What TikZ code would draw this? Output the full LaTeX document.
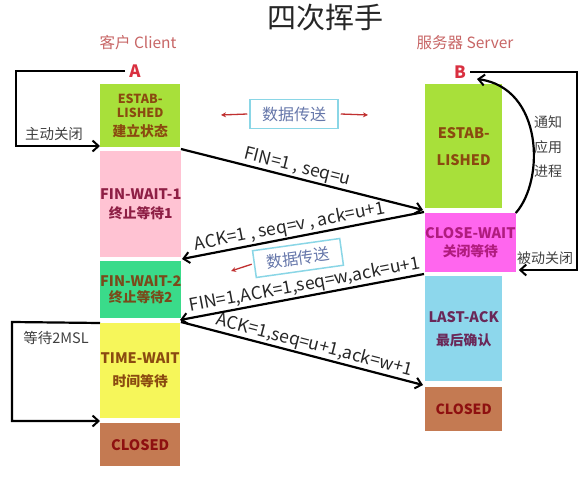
\documentclass[tikz,border=0pt]{standalone}
\usepackage{fontspec}
\setmainfont{Noto Sans CJK SC}
\usetikzlibrary{arrows.meta,calc}
\definecolor{estab}{HTML}{A8E03A}
\definecolor{fwone}{HTML}{FFC3D3}
\definecolor{fwtwo}{HTML}{3ADB8A}
\definecolor{twait}{HTML}{F6F65A}
\definecolor{closedc}{HTML}{C47A52}
\definecolor{cwait}{HTML}{FF66EE}
\definecolor{lack}{HTML}{8DD7EC}
\definecolor{tEstab}{HTML}{8A4A10}
\definecolor{tFwone}{HTML}{8E1F45}
\definecolor{tFwtwo}{HTML}{7A4A1A}
\definecolor{tClosed}{HTML}{8E1010}
\definecolor{tCwait}{HTML}{B01C7E}
\definecolor{tLack}{HTML}{6A2858}
\definecolor{hdr}{HTML}{C76565}
\definecolor{abred}{HTML}{D93040}
\definecolor{dborder}{HTML}{8AD6E6}
\definecolor{dtext}{HTML}{6677AA}
\definecolor{redarr}{HTML}{C03030}
\newcommand\zhline[1]{{\fontsize{13.8}{17}\selectfont #1}}
\begin{document}
\begin{tikzpicture}[x=1pt,y=-1pt,
  stbox/.style={draw=none, inner sep=0pt, align=center, anchor=north west,
    font=\bfseries\fontsize{14.5}{17}\selectfont},
  cbox/.style={stbox, minimum width=80pt},
  sbox/.style={stbox, minimum width=77pt},
  msg/.style={line width=2.2pt, -{Straight Barb[length=6pt,width=11pt,line width=2pt]}},
  bk/.style={line width=2.2pt, -{Straight Barb[length=6pt,width=11pt,line width=2pt]}},
  lbl/.style={above, sloped, inner sep=1pt, text=black!85, font=\fontsize{17.5}{19}\selectfont},
  side/.style={text=black!75, font=\fontsize{14}{16}\selectfont},
  dbox/.style={draw=dborder, line width=1.5pt, fill=white, text=dtext, minimum width=88pt, minimum height=29pt, inner sep=0pt, font=\fontsize{16}{18}\selectfont},
  rarr/.style={draw=redarr, line width=1.3pt, -{Stealth[length=5pt,width=5pt]}}
]
\useasboundingbox (0,0) rectangle (587,479);

% title and headers
\node[font=\fontsize{29}{32}\selectfont, text=black!85] (title) at (325,18) {四次挥手};
\node[text=hdr, font=\fontsize{15.5}{18}\selectfont] (chdr) at (138,43) {客户 Client};
\node[text=hdr, font=\fontsize{15.5}{18}\selectfont] (shdr) at (465,43) {服务器 Server};
\node[text=abred, font=\bfseries\fontsize{17}{19}\selectfont, inner sep=2pt] (A) at (135,71) {A};
\node[text=abred, font=\bfseries\fontsize{17}{19}\selectfont, inner sep=2pt] (B) at (460,72) {B};

% client states
\node[cbox, fill=estab, text=tEstab, minimum height=63pt, font=\bfseries\fontsize{12.5}{14}\selectfont] (ce) at (100,84) {ESTAB-\\LISHED\\[5pt]\zhline{建立状态}};
\node[cbox, fill=fwone, text=tFwone, minimum height=106pt] (fw1) at (100,151) {FIN-WAIT-1\\[2pt]\zhline{终止等待1}};
\node[cbox, fill=fwtwo, text=tFwtwo, minimum height=57pt] (fw2) at (100,261) {FIN-WAIT-2\\[-1pt]\zhline{终止等待2}};
\node[cbox, fill=twait, text=tEstab, minimum height=95pt] (tw) at (100,323) {TIME-WAIT\\[6pt]\zhline{时间等待}};
\node[cbox, fill=closedc, text=tClosed, minimum height=43pt] (cc) at (100,423) {CLOSED};

% server states
\node[sbox, fill=estab, text=tEstab, minimum height=124pt] (se) at (425,84) {ESTAB-\\[10pt]LISHED};
\node[sbox, fill=cwait, text=tCwait, minimum height=59pt] (cw) at (425,213) {CLOSE-WAIT\\[1pt]\zhline{关闭等待}};
\node[sbox, fill=lack, text=tLack, minimum height=105pt] (la) at (425,276) {LAST-ACK\\[6pt]\zhline{最后确认}};
\node[sbox, fill=closedc, text=tClosed, minimum height=44pt, font=\bfseries\fontsize{14}{17}\selectfont] (sc) at (425,387) {CLOSED};

% connection points in the gaps
\coordinate (c1) at (181,149);
\coordinate (s1) at (423,210);
\coordinate (s1b) at (424,212);
\coordinate (c2) at (182,259);
\coordinate (s2) at (424,274);
\coordinate (c3) at (180,320);
\coordinate (c3b) at (181,322);
\coordinate (s3) at (423,385);

% messages
\draw[msg] (c1) -- (s1) node[lbl, pos=0.47] {FIN=1 , seq=u};
\draw[msg] (s1b) -- (c2) node[lbl, pos=0.545] {ACK=1 , seq=v , ack=u+1};
\draw[msg] (s2) -- (c3) node[lbl, pos=0.48] {FIN=1,ACK=1,seq=w,ack=u+1};
\draw[msg] (c3b) -- (s3) node[lbl, pos=0.54] {ACK=1,seq=u+1,ack=w+1};

% data transfer boxes
\node[dbox] (d1) at (294,114) {数据传送};
\coordinate (d1l) at (221,115);
\coordinate (d1r) at (368,115);
\draw[rarr] ([xshift=-2pt]d1.west) -- (d1l);
\draw[rarr] ([xshift=2pt]d1.east) -- (d1r);
\node[dbox, rotate=8, minimum height=27pt] (d2) at (298,258) {数据传送};
\coordinate (d2l) at (231,271);
\draw[rarr] ([xshift=-2pt]d2.west) -- (d2l);

% client side brackets
\draw[bk] ([xshift=-2pt]A.west) -| (16,146) -- (ce.south west |- 0,146);
\node[side, font=\fontsize{14.5}{16}\selectfont] (zdgb) at (54,134) {主动关闭};
\draw[bk] (tw.north west) -- (12,322) |- (cc.north west |- 0,421);
\node[side, font=\fontsize{14.5}{16}\selectfont] (dd) at (56,338) {等待2MSL};

% server side brackets
\draw[bk] ([xshift=2pt]B.east) -| (577,270) -- ([xshift=3pt]cw.east |- 0,270);
\node[side] (bdgb) at (545,258) {被动关闭};
\coordinate (bIn) at (477,79);
\draw[bk] (cw.north east) .. controls (545,180) and (543,88) .. (bIn);
\node[side] (tz) at (548,122) {通知};
\node[side] (yy) at (548,147) {应用};
\node[side] (jc) at (548,171) {进程};
\end{tikzpicture}
\end{document}
